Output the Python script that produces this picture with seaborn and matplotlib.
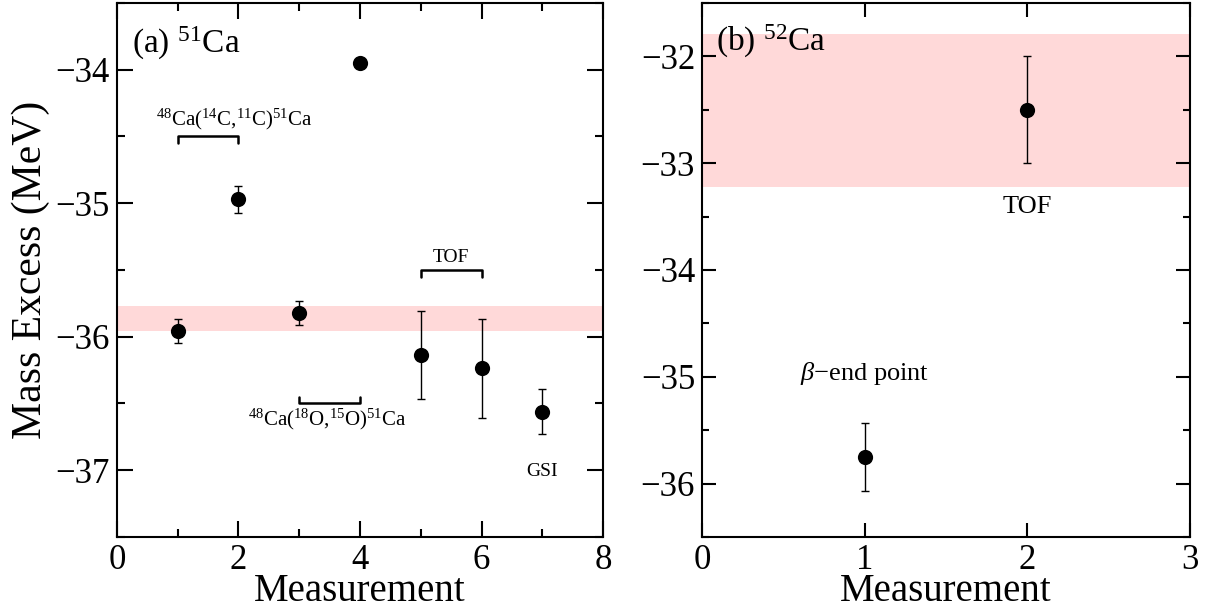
import numpy as np
import pandas as pd
import matplotlib
matplotlib.use("Agg")
import matplotlib.pyplot as plt
import seaborn as sns
from matplotlib.ticker import MultipleLocator

# ---------------- data ----------------
ca51_meas = [1, 2, 3, 4, 5, 6, 7]
ca51_mass = [-35.955, -34.97, -35.82, -33.95, -36.14, -36.235, -36.56]
ca51_err = [0.09, 0.10, 0.09, 0.02, 0.33, 0.37, 0.17]
ca51_band = [-35.96, -35.77]

ca52_meas = [1, 2]
ca52_mass = [-35.75, -32.5]
ca52_err = [0.32, 0.5]
ca52_band = [-33.22, -31.79]

# bracket groups (x from, x to, y level, tick direction)
bracket_c = [1, 2, -34.5, -0.05]
bracket_tof = [5, 6, -35.5, -0.05]
bracket_o = [3, 4, -36.5, 0.05]

sns.set_theme(style="ticks")
plt.rcParams["font.family"] = ["Liberation Serif", "DejaVu Serif"]
plt.rcParams["mathtext.fontset"] = "custom"
plt.rcParams["mathtext.rm"] = "Liberation Serif"
plt.rcParams["mathtext.it"] = "Liberation Serif:italic"
plt.rcParams["axes.linewidth"] = 1.5
plt.rcParams["text.color"] = "black"
plt.rcParams["axes.labelcolor"] = "black"
plt.rcParams["xtick.color"] = "black"
plt.rcParams["ytick.color"] = "black"

fig = plt.figure(figsize=(12.07, 6.13), dpi=100)
ax1 = fig.add_axes([0.0969, 0.124, 0.4027, 0.8711])
ax2 = fig.add_axes([0.5816, 0.124, 0.4043, 0.8711])

band_color = "#ffd9d9"

def style(ax, major_len):
    ax.tick_params(which="both", direction="in", top=True, right=True,
                   width=1.5, colors="black", labelsize=25, pad=5)
    ax.tick_params(which="major", length=major_len)
    ax.tick_params(which="minor", length=major_len / 2)
    for s in ax.spines.values():
        s.set_color("black")
        s.set_linewidth(1.5)

def place_xlabel(ax):
    ax.xaxis.label.set_va("bottom")
    ax.xaxis.set_label_coords(0.5, -0.137)

# ---------- panel (a) ----------
df1 = pd.DataFrame({"m": ca51_meas, "e": ca51_mass, "err": ca51_err})
ax1.axhspan(ca51_band[0], ca51_band[1], color=band_color, lw=0, zorder=0)
ax1.errorbar(df1["m"], df1["e"], yerr=df1["err"], fmt="none", ecolor="black",
             elinewidth=1.0, capsize=3, capthick=1.0, zorder=2)
sns.scatterplot(data=df1, x="m", y="e", ax=ax1, color="black", s=120,
                edgecolor="black", linewidth=0, zorder=3)
ax1.set_xlim(0, 8)
ax1.set_ylim(-37.5, -33.5)
ax1.xaxis.set_major_locator(MultipleLocator(2))
ax1.xaxis.set_minor_locator(MultipleLocator(1))
ax1.yaxis.set_major_locator(MultipleLocator(1))
ax1.yaxis.set_minor_locator(MultipleLocator(0.5))
style(ax1, 11.5)
ax1.set_xlabel("Measurement", fontsize=28)
place_xlabel(ax1)
ax1.set_ylabel("Mass Excess (MeV)", fontsize=30, labelpad=4)

for b in (bracket_c, bracket_tof, bracket_o):
    x0, x1_, yl, d = b
    ax1.plot([x0, x0, x1_, x1_], [yl + d, yl, yl, yl + d], color="black", lw=1.8)

ax1.text(0.25, -33.87, r"(a) $^{51}$Ca", fontsize=24, ha="left", va="baseline")
ax1.text(0.65, -34.37, r"$^{48}$Ca($^{14}$C,$^{11}$C)$^{51}$Ca", fontsize=15,
         ha="left", va="center")
ax1.text(5.5, -35.41, "TOF", fontsize=14, ha="center", va="center")
ax1.text(3.47, -36.62, r"$^{48}$Ca($^{18}$O,$^{15}$O)$^{51}$Ca", fontsize=15,
         ha="center", va="center")
ax1.text(7.0, -37.01, "GSI", fontsize=14, ha="center", va="center")

# ---------- panel (b) ----------
df2 = pd.DataFrame({"m": ca52_meas, "e": ca52_mass, "err": ca52_err})
ax2.axhspan(ca52_band[0], ca52_band[1], color=band_color, lw=0, zorder=0)
ax2.errorbar(df2["m"], df2["e"], yerr=df2["err"], fmt="none", ecolor="black",
             elinewidth=1.0, capsize=3, capthick=1.0, zorder=2)
sns.scatterplot(data=df2, x="m", y="e", ax=ax2, color="black", s=120,
                edgecolor="black", linewidth=0, zorder=3)
ax2.set_xlim(0, 3)
ax2.set_ylim(-36.5, -31.5)
ax2.xaxis.set_major_locator(MultipleLocator(1))
ax2.yaxis.set_major_locator(MultipleLocator(1))
ax2.yaxis.set_minor_locator(MultipleLocator(0.5))
style(ax2, 10)
ax2.set_xlabel("Measurement", fontsize=28)
place_xlabel(ax2)
ax2.set_ylabel("")

ax2.text(0.086, -31.95, r"(b) $^{52}$Ca", fontsize=24, ha="left", va="baseline")
ax2.text(2.0, -33.41, "TOF", fontsize=19, ha="center", va="center")
ax2.text(1.0, -34.97, r"$\beta$$-$end point", fontsize=19, ha="center", va="center")

fig.savefig("out.png", dpi=100)
